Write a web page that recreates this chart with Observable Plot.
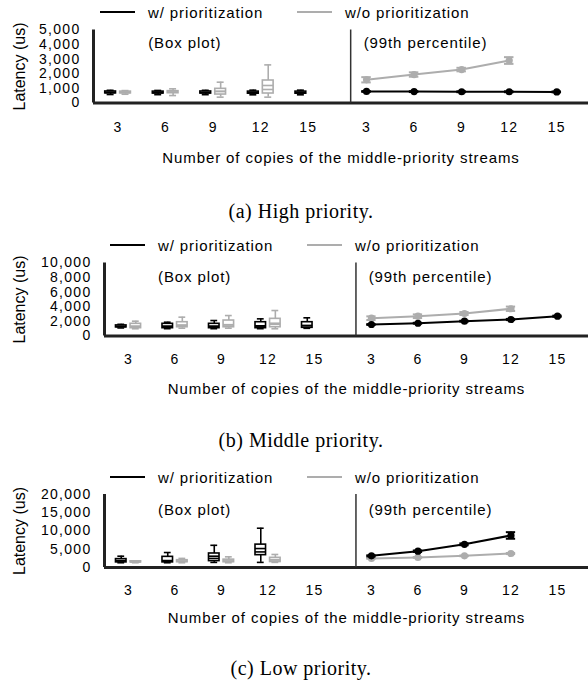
<!DOCTYPE html>
<html><head><meta charset="utf-8">
<script src="https://cdn.jsdelivr.net/npm/d3@7"></script>
<script src="https://cdn.jsdelivr.net/npm/@observablehq/plot@0.6"></script>
<style>
html,body{margin:0;padding:0;background:#fff;}
#root{position:relative;width:588px;height:681px;overflow:hidden;font-family:"Liberation Sans",Arial,sans-serif;color:#000;}
.panel{position:absolute;left:0;width:588px;}
.panel svg{position:absolute;left:0;top:0;}
.panel svg text{letter-spacing:0.9px;}
.panel svg g[aria-label$="tick label"] text{letter-spacing:1.3px;}
.panel svg text[transform*="rotate"]{letter-spacing:0;}
.legend{position:absolute;left:0;width:588px;height:20px;font-size:15px;letter-spacing:0.9px;}
.item{position:absolute;top:0;height:20px;display:flex;align-items:center;white-space:nowrap;}
.swatch{width:35px;height:2px;margin-right:13px;}
.caption{position:absolute;left:7px;width:588px;text-align:center;font-family:"Liberation Serif","Times New Roman",serif;font-size:20px;letter-spacing:0.5px;line-height:24px;}
</style></head><body><div id="root"></div>
<script>
// ---------- data ----------
const copies = [3, 6, 9, 12, 15];
const seriesNames = ["w/ prioritization", "w/o prioritization"];
const seriesColors = ["#000000", "#adadad"];
const captions = ["(a) High priority.", "(b) Middle priority.", "(c) Low priority."];
const subLabels = ["(Box plot)", "(99th percentile)"];
const xTitle = "Number of copies of the middle-priority streams";
const yTitle = "Latency (us)";
const yMaxes = [5000, 10000, 20000];
const yTicksHigh = [0, 1000, 2000, 3000, 4000, 5000];
const yTicksMid = [0, 2000, 4000, 6000, 8000, 10000];
const yTicksLow = [0, 5000, 10000, 15000, 20000];

// box statistics per copies value: [low whisker, q1, median, mean, q3, high whisker]
const highBoxWith = [[580, 660, 720, 725, 790, 870], [570, 650, 710, 715, 780, 860], [570, 650, 710, 720, 790, 870], [560, 640, 700, 710, 780, 880], [560, 640, 700, 710, 780, 880]];
const highBoxWithout = [[600, 660, 720, 725, 780, 850], [510, 670, 740, 750, 810, 970], [400, 580, 790, 800, 970, 1425], [400, 650, 925, 1200, 1540, 2610], null];
const midBoxWith = [[1100, 1180, 1300, 1320, 1450, 1600], [1000, 1070, 1300, 1350, 1670, 1890], [1000, 1070, 1300, 1350, 1670, 2120], [1000, 1070, 1350, 1400, 1890, 2350], [1050, 1120, 1400, 1450, 1890, 2490]];
const midBoxWithout = [[990, 1070, 1300, 1350, 1670, 2030], [1070, 1200, 1450, 1500, 1890, 2580], [1070, 1200, 1500, 1550, 2120, 2800], [990, 1200, 1600, 1750, 2350, 3490], null];
const lowBoxWith = [[1300, 1400, 1840, 1900, 2300, 3100], [1300, 1400, 1750, 1900, 2920, 4100], [1400, 1750, 2490, 3100, 3840, 6080], [1400, 3380, 4270, 5190, 6270, 10760], null];
const lowBoxWithout = [[1300, 1400, 1550, 1560, 1700, 1800], [1300, 1450, 1700, 1750, 2000, 2490], [1300, 1450, 1700, 1800, 2150, 2920], [1400, 1500, 2030, 2150, 2650, 3570], null];

// 99th percentile and its error
const highP99With = [790, 780, 770, 770, 760];
const highP99WithErr = [30, 30, 30, 30, 30];
const highP99Without = [1590, 1950, 2290, 2910, null];
const highP99WithoutErr = [180, 150, 120, 230, null];
const midP99With = [1575, 1750, 2030, 2260, 2710];
const midP99WithErr = [60, 60, 60, 80, 80];
const midP99Without = [2440, 2710, 3080, 3730, null];
const midP99WithoutErr = [250, 250, 200, 300, null];
const lowP99With = [3190, 4460, 6350, 8780, null];
const lowP99WithErr = [150, 200, 250, 900, null];
const lowP99Without = [2490, 2760, 3190, 3830, null];
const lowP99WithoutErr = [100, 100, 100, 150, null];

// ---------- layout ----------
const LEFT = [1.45, 17.67];   // x extent of the box-plot half
const RIGHT = [2, 17];        // x extent of the percentile half
const SHIFT = LEFT[1] - RIGHT[0];
const OFF = 0.47, HW = 0.34, CAP = 0.22, ECAP = 0.3;
const subLabelX = [4.9, 2.82 + SHIFT];

const panels = [
  {top: 0,   marginTop: 29.5, marginLeft: 93,  legendTop: 2, legendLeft: 100, captionTop: 199, tickPad: 19, titleDy: 55.5, noteDy: 13.5,
   yTicks: yTicksHigh, boxes: [highBoxWith, highBoxWithout], p99: [[highP99With, highP99WithErr], [highP99Without, highP99WithoutErr]]},
  {top: 230, marginTop: 32.5, marginLeft: 104, legendTop: 5, legendLeft: 110, captionTop: 198, tickPad: 18.5, titleDy: 53, noteDy: 14.5,
   yTicks: yTicksMid, boxes: [midBoxWith, midBoxWithout], p99: [[midP99With, midP99WithErr], [midP99Without, midP99WithoutErr]]},
  {top: 460, marginTop: 34, marginLeft: 104, legendTop: 7, legendLeft: 110, captionTop: 196, tickPad: 17.5, titleDy: 50.5, noteDy: 16,
   yTicks: yTicksLow, boxes: [lowBoxWith, lowBoxWithout], p99: [[lowP99With, lowP99WithErr], [lowP99Without, lowP99WithoutErr]]}
];
const PLOT_H = 73, MB = 72;

const xTickValues = copies.concat(copies.map(c => c + SHIFT));
const root = document.getElementById("root");

panels.forEach((p, pi) => {
  const div = document.createElement("div");
  div.className = "panel";
  div.style.top = p.top + "px";
  div.style.height = (p.marginTop + PLOT_H + MB) + "px";
  root.appendChild(div);

  const marks = [];
  // frame lines
  marks.push(Plot.ruleY([0], {stroke: "#222", strokeWidth: 3}));
  marks.push(Plot.ruleX([LEFT[0]], {y1: 0, y2: yMaxes[pi], stroke: "#222", strokeWidth: 3}));
  marks.push(Plot.ruleX([LEFT[1]], {y1: 0, y2: yMaxes[pi], stroke: "#333", strokeWidth: 1.5}));

  // box plots
  p.boxes.forEach((arr, si) => {
    const color = seriesColors[si];
    const rows = [];
    arr.forEach((s, i) => {
      if (!s) return;
      const [lo, q1, med, mean, q3, hi] = s;
      rows.push({pos: copies[i] + (si === 0 ? -OFF : OFF), lo, q1, med, mean, q3, hi});
    });
    const sw = 1.6;
    marks.push(
      Plot.ruleX(rows, {x: "pos", y1: "lo", y2: "q1", stroke: color, strokeWidth: sw}),
      Plot.ruleX(rows, {x: "pos", y1: "q3", y2: "hi", stroke: color, strokeWidth: sw}),
      Plot.rect(rows, {x1: d => d.pos - HW, x2: d => d.pos + HW, y1: "q1", y2: "q3", fill: "white", stroke: color, strokeWidth: sw}),
      Plot.ruleY(rows, {y: "med", x1: d => d.pos - HW, x2: d => d.pos + HW, stroke: color, strokeWidth: sw}),
      Plot.ruleY(rows, {y: "mean", x1: d => d.pos - HW, x2: d => d.pos + HW, stroke: color, strokeWidth: sw}),
      Plot.ruleY(rows, {y: "lo", x1: d => d.pos - CAP, x2: d => d.pos + CAP, stroke: color, strokeWidth: sw}),
      Plot.ruleY(rows, {y: "hi", x1: d => d.pos - CAP, x2: d => d.pos + CAP, stroke: color, strokeWidth: sw})
    );
  });

  // 99th percentile lines (grey first, black on top)
  [1, 0].forEach(si => {
    const color = seriesColors[si];
    const [vals, errs] = p.p99[si];
    const rows = [];
    vals.forEach((v, i) => { if (v != null) rows.push({px: copies[i] + SHIFT, v, e: errs[i]}); });
    marks.push(
      Plot.line(rows, {x: "px", y: "v", stroke: color, strokeWidth: 2}),
      Plot.ruleX(rows, {x: "px", y1: d => d.v - d.e, y2: d => d.v + d.e, stroke: color, strokeWidth: 2}),
      Plot.ruleY(rows, {y: d => d.v - d.e, x1: d => d.px - ECAP, x2: d => d.px + ECAP, stroke: color, strokeWidth: 2}),
      Plot.ruleY(rows, {y: d => d.v + d.e, x1: d => d.px - ECAP, x2: d => d.px + ECAP, stroke: color, strokeWidth: 2}),
      Plot.dot(rows, {x: "px", y: "v", r: 3.6, fill: color, stroke: "none"})
    );
  });

  // axes and labels
  marks.push(
    Plot.axisY({ticks: p.yTicks, tickFormat: d3.format(","), tickSize: 0, tickPadding: 13, label: null, fontSize: 14}),
    Plot.axisX({ticks: xTickValues, tickFormat: d => String(Math.round(d > LEFT[1] ? d - SHIFT : d)), tickSize: 0, tickPadding: p.tickPad, label: null, fontSize: 14}),
    Plot.text([xTitle], {text: d => d, frameAnchor: "bottom", dy: p.titleDy, lineAnchor: "middle", fontSize: 15}),
    Plot.text([yTitle], {text: d => d, frameAnchor: "left", dx: 19 - p.marginLeft, rotate: -90, textAnchor: "middle", lineAnchor: "middle", fontSize: 16}),
    Plot.text(subLabels.map((s, i) => ({s, x: subLabelX[i]})), {x: "x", text: "s", frameAnchor: "top", dy: p.noteDy, textAnchor: "start", lineAnchor: "middle", fontSize: 15})
  );

  const svg = Plot.plot({
    width: 588,
    height: p.marginTop + PLOT_H + MB,
    marginTop: p.marginTop, marginBottom: MB, marginLeft: p.marginLeft, marginRight: 0,
    x: {type: "linear", domain: [LEFT[0], RIGHT[1] + SHIFT]},
    y: {type: "linear", domain: [0, yMaxes[pi]]},
    style: {fontFamily: '"Liberation Sans", Arial, sans-serif', fontSize: "15px", color: "#000", background: "transparent", overflow: "visible"},
    marks
  });
  div.appendChild(svg);

  // legend
  const leg = document.createElement("div");
  leg.className = "legend";
  leg.style.top = p.legendTop + "px";
  seriesNames.forEach((name, si) => {
    const it = document.createElement("div");
    it.className = "item";
    it.style.left = (p.legendLeft + si * 197) + "px";
    const sw = document.createElement("span");
    sw.className = "swatch";
    sw.style.background = seriesColors[si];
    const tx = document.createElement("span");
    tx.textContent = name;
    it.appendChild(sw); it.appendChild(tx);
    leg.appendChild(it);
  });
  div.appendChild(leg);

  // caption
  const cap = document.createElement("div");
  cap.className = "caption";
  cap.style.top = p.captionTop + "px";
  cap.textContent = captions[pi];
  div.appendChild(cap);
});
</script></body></html>
